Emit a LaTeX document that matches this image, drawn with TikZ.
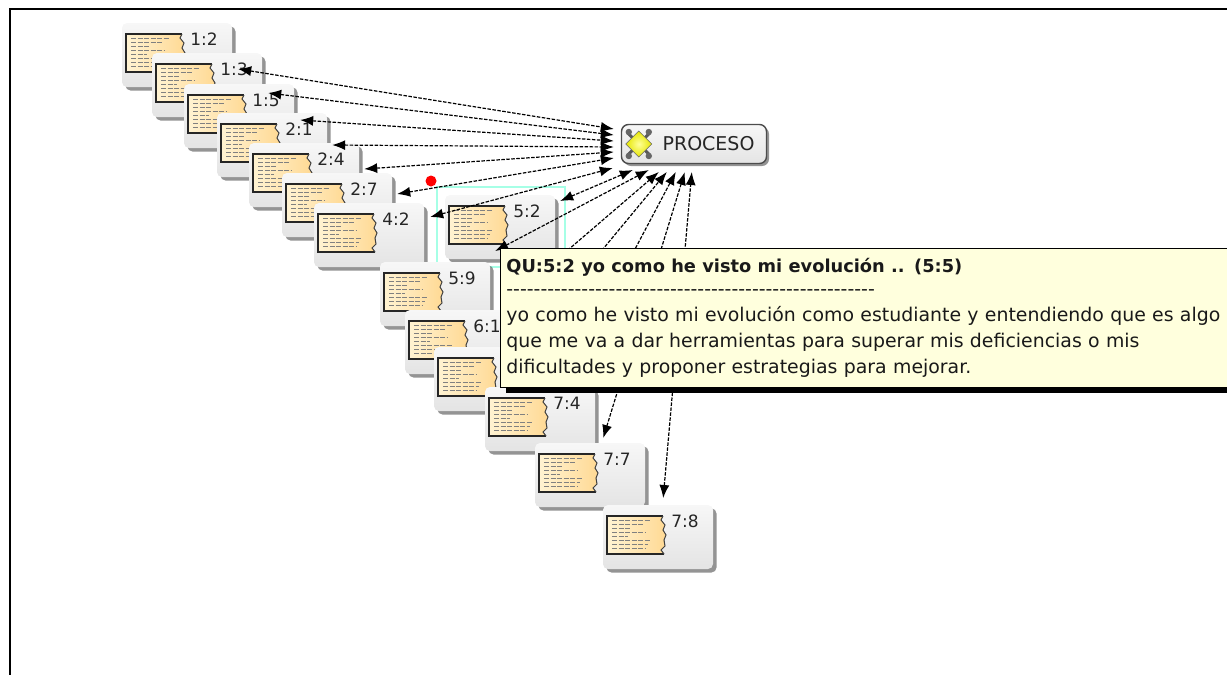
\documentclass[tikz,border=0pt]{standalone}
\usepackage{fontspec}
\setmainfont{DejaVu Sans}
\newfontfamily\tipfont{DejaVu Sans}
\usetikzlibrary{arrows.meta,shadows}
\definecolor{boxlight}{HTML}{F7F7F7}
\definecolor{boxdark}{HTML}{E4E4E4}
\definecolor{paper}{HTML}{FFE9AE}
\definecolor{tipyellow}{HTML}{FFFFDD}
\definecolor{selcyan}{HTML}{A6FFE6}
\tikzset{
  memo/.pic={
    \fill[sharp corners,left color=paper!55!white,right color=paper!85!orange] (-51,-21) -- (5,-21) -- (3,-17) -- (7,-12) -- (5,-7) -- (8,-2) -- (6,3) -- (7,9) -- (3,13) -- (6,17) -- (-51,17) -- cycle;
    \draw[sharp corners,black!85,line width=1.5pt] (6,17) -- (-51,17) -- (-51,-21) -- (5,-21);
    \draw[sharp corners,black!75,line width=1pt] (5,-21) -- (3,-17) -- (7,-12) -- (5,-7) -- (8,-2) -- (6,3) -- (7,9) -- (3,13) -- (6,17);
    \draw[rowdash] (-46,-17) -- (-8,-17);
    \draw[rowdash] (-46,-13) -- (-15,-13);
    \draw[rowdash] (-46,-9) -- (-28,-9);
    \draw[rowdash] (-46,-5) -- (-12,-5);
    \draw[rowdash] (-46,-1) -- (-30,-1);
    \draw[rowdash] (-46,3) -- (-8,3);
    \draw[rowdash] (-46,7) -- (-10,7);
    \draw[rowdash] (-46,11) -- (-12,11);
  },
  gearicon/.pic={
    \draw[black!65,line width=3pt] (-11,-11) -- (11,11);
    \draw[black!65,line width=3pt] (-11,11) -- (11,-11);
    \fill[black!60] (-10,-12) circle (3.2) (10,-12) circle (3.2) (-10,12) circle (3.2) (10,12) circle (3.2);
    \shade[sharp corners,inner color=yellow!40!white,outer color=yellow!90!black] (0,-13) -- (13,0) -- (0,13) -- (-13,0) -- cycle;
    \draw[sharp corners,black!60,line width=.6pt] (0,-13) -- (13,0) -- (0,13) -- (-13,0) -- cycle;
  }
}
\begin{document}
\begin{tikzpicture}[
  x=1pt, y=-1pt,
  rowdash/.style={black!50, line width=1pt, dash pattern=on 5pt off 1.5pt},
  quote/.style={rectangle, rounded corners=5pt, top color=boxlight, bottom color=boxdark, minimum width=110pt, minimum height=64pt, inner sep=0pt,
    drop shadow={shadow xshift=3.5pt, shadow yshift=-3.5pt, opacity=.7, fill=black!60},
    path picture={\pic at (path picture bounding box.center) {memo};}},
  tag/.style={font=\fontsize{17}{20}\selectfont, text=black!85, inner sep=0pt, xshift=27pt, yshift=15.5pt},
  code/.style={rectangle, rounded corners=7pt, draw=black!70, line width=1.4pt, top color=boxlight, bottom color=boxdark, minimum height=39pt, inner xsep=12pt, text width=121pt, align=right,
    drop shadow={shadow xshift=2.5pt, shadow yshift=-2.5pt, opacity=.7, fill=black!60},
    font=\fontsize{19}{22}\selectfont, text=black!85},
  link/.style={{Latex[length=13pt,width=10pt]}-{Latex[length=13pt,width=10pt]}, line width=1.2pt, dash pattern=on 3.5pt off 1.5pt},
  tooltip/.style={rectangle, draw=black, line width=.8pt, fill=tipyellow, anchor=north west, text width=714.5pt, minimum height=139pt, inner xsep=6pt, inner ysep=4pt, align=left,
    drop shadow={shadow xshift=5.5pt, shadow yshift=-5.5pt, opacity=1, fill=black}, text=black!90}
]
\useasboundingbox (0,0) rectangle (1227,675);
\draw[line width=2pt] (10,675) -- (10,9) -- (1227,9);

\node[quote,label={[tag]center:{1:2}}] (q12) at (177,55) {};
\node[quote,label={[tag]center:{1:3}}] (q13) at (207,85) {};
\node[quote,label={[tag]center:{1:5}}] (q15) at (239,116) {};
\node[quote,label={[tag]center:{2:1}}] (q21) at (272,145) {};
\node[quote,label={[tag]center:{2:4}}] (q24) at (304,175) {};
\node[quote,label={[tag]center:{2:7}}] (q27) at (337,205) {};
\node[quote,label={[tag]center:{4:2}}] (q42) at (369,235) {};
\node[draw=selcyan, line width=1.6pt, minimum width=128pt, minimum height=80pt] (sel52) at (501,227) {};
\node[quote,label={[tag]center:{5:2}}] (q52) at (500,227) {};
\node[quote,label={[tag]center:{5:9}}] (q59) at (435,294) {};
\node[quote,label={[tag]center:{6:1}}] (q61) at (460,342) {};
\node[quote] (q71) at (489,379) {};
\node[quote,label={[tag]center:{7:4}}] (q74) at (540,419) {};
\node[quote,label={[tag]center:{7:7}}] (q77) at (590,475) {};
\node[quote,label={[tag]center:{7:8}}] (q78) at (658,537) {};

\node[code] (proceso) at (694,144) {PROCESO};
\pic at ([xshift=18pt]proceso.west) {gearicon};
\node[circle, fill=red, minimum size=11pt, inner sep=0pt] (dot) at (431,181) {};

\draw[link] ([shift={(6,14)}]q12.east) -- ([shift={(-7,-15)}]proceso.west);
\draw[link] ([shift={(6,8)}]q13.east) -- ([shift={(-7,-9)}]proceso.west);
\draw[link] ([shift={(6,4)}]q15.east) -- ([shift={(-7,-3)}]proceso.west);
\draw[link] ([shift={(5,0)}]q21.east) -- ([shift={(-7,3)}]proceso.west);
\draw[link] ([shift={(5,-6)}]q24.east) -- ([shift={(-7,8)}]proceso.west);
\draw[link] ([shift={(5,-11)}]q27.east) -- ([shift={(-7,14)}]proceso.west);
\draw[link] ([shift={(6,-18)}]q42.east) -- ([shift={(-8,24)}]proceso.west);
\draw[link] ([shift={(5,-26)}]q52.east) -- ([shift={(12,26)}]proceso.west);
\draw[link] ([shift={(5,-43)}]q59.east) -- ([shift={(28,26)}]proceso.west);
\draw[link] ([shift={(5,-51)}]q61.east) -- ([shift={(38,28)}]proceso.west);
\draw[link] ([shift={(5,-65)}]q71.east) -- ([shift={(46,28)}]proceso.west);
\draw[link] ([shift={(-31,-36)}]q74.east) -- ([shift={(55,28)}]proceso.west);
\draw[link] ([shift={(-42,-37)}]q77.east) -- ([shift={(64,28)}]proceso.west);
\draw[link] ([shift={(-50,-39)}]q78.east) -- ([shift={(71,28)}]proceso.west);

\node[tooltip, font=\tipfont\fontsize{18.9}{26}\selectfont] (tip52) at (500,248) {{\fontsize{17.8}{26}\selectfont\bfseries QU:5:2 yo como he visto mi evolución .. (5:5)}\\[-3pt]
-{}-----------------------------------------------------\\
yo como he visto mi evolución como estudiante y entendiendo que es algo\\
que me va a dar herramientas para superar mis deficiencias o mis\\
dificultades y proponer estrategias para mejorar.};
\end{tikzpicture}
\end{document}
